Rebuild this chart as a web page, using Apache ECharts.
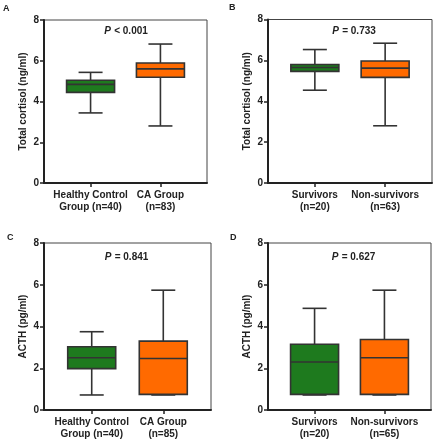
<!DOCTYPE html>
<html><head><meta charset="utf-8">
<script src="https://cdn.jsdelivr.net/npm/echarts@6/dist/echarts.min.js"></script>
<style>html,body{margin:0;padding:0;background:#fff}#c{width:437px;height:440px}</style>
</head><body><div id="c"></div>
<script>
// ---- data ----
const panelLetters = ['A', 'B', 'C', 'D'];
const pTexts = ['< 0.001', '= 0.733', '= 0.841', '= 0.627'];
const yNames = ['Total cortisol (ng/ml)', 'Total cortisol (ng/ml)', 'ACTH (pg/ml)', 'ACTH (pg/ml)'];
const catsA = ['Healthy Control\nGroup (n=40)', 'CA Group\n(n=83)'];
const catsB = ['Survivors\n(n=20)', 'Non-survivors\n(n=63)'];
const catsC = ['Healthy Control\nGroup (n=40)', 'CA Group\n(n=85)'];
const catsD = ['Survivors\n(n=20)', 'Non-survivors\n(n=65)'];
// [min, Q1, median, Q3, max]
const boxA = [[3.44, 4.45, 4.84, 5.04, 5.43], [2.80, 5.19, 5.60, 5.89, 6.82]];
const boxB = [[4.54, 5.46, 5.65, 5.80, 6.53], [2.80, 5.17, 5.62, 5.97, 6.84]];
const boxC = [[0.72, 1.98, 2.50, 3.03, 3.75], [0.72, 0.75, 2.47, 3.30, 5.74]];
const boxD = [[0.72, 0.75, 2.30, 3.15, 4.87], [0.72, 0.75, 2.50, 3.38, 5.74]];
const yTicks = [0, 2, 4, 6, 8];

// ---- layout ----
const grids = [
  {left: 44, top: 20, width: 163, height: 163},
  {left: 268, top: 19.5, width: 164, height: 163.5},
  {left: 44, top: 243, width: 167, height: 167.5},
  {left: 268, top: 243, width: 163, height: 167.5}
];
const letterPos = [[3, 4], [229, 3], [7, 233], [230, 233]];
const pPos = [[126, 31], [354, 31], [126.5, 257.5], [353.5, 257]];
const allCats = [catsA, catsB, catsC, catsD];
const allBoxes = [boxA, boxB, boxC, boxD];
const colors = ['#1e7a1e', '#ff6a00'];
const SLOTS = 8, POS = [2, 5];
const FONT = '"Liberation Sans", Arial, sans-serif';
const dark = '#222';

function slotCats(cats) {
  const a = new Array(SLOTS).fill('');
  a[POS[0]] = cats[0]; a[POS[1]] = cats[1];
  return a;
}
const showIdx = (i) => i === POS[0] || i === POS[1];

function renderBox(params, api) {
  const x = api.value(0);
  const ci = api.value(6);
  const pt = (v) => api.coord([x, v]);
  const lo = pt(api.value(1)), q1 = pt(api.value(2)), md = pt(api.value(3)),
        q3 = pt(api.value(4)), hi = pt(api.value(5));
  const cx = lo[0], hw = 24, cw = 12;
  const ls = {stroke: '#333', lineWidth: 1.6};
  return {
    type: 'group',
    children: [
      {type: 'line', shape: {x1: cx, y1: hi[1], x2: cx, y2: q3[1]}, style: ls},
      {type: 'line', shape: {x1: cx, y1: q1[1], x2: cx, y2: lo[1]}, style: ls},
      {type: 'line', shape: {x1: cx - cw, y1: hi[1], x2: cx + cw, y2: hi[1]}, style: ls},
      {type: 'line', shape: {x1: cx - cw, y1: lo[1], x2: cx + cw, y2: lo[1]}, style: ls},
      {type: 'rect', shape: {x: cx - hw, y: q3[1], width: hw * 2, height: q1[1] - q3[1]},
        style: {fill: colors[ci], stroke: '#333', lineWidth: 1.6}},
      {type: 'line', shape: {x1: cx - hw, y1: md[1], x2: cx + hw, y2: md[1]}, style: ls}
    ]
  };
}

const option = {
  animation: false,
  textStyle: {fontFamily: FONT},
  grid: grids.map(g => Object.assign({show: true, borderColor: '#444', borderWidth: 1, backgroundColor: 'transparent'}, g)),
  xAxis: allCats.map((cats, k) => ({
    type: 'category', gridIndex: k, data: slotCats(cats), boundaryGap: false,
    axisLine: {lineStyle: {color: dark, width: 2}},
    axisTick: {interval: (i) => showIdx(i), length: 4, lineStyle: {color: dark, width: 1.5}},
    axisLabel: {interval: (i) => showIdx(i), color: dark, fontWeight: 'bold', fontSize: 10,
      lineHeight: 12, margin: 6, fontFamily: FONT},
    splitLine: {show: false}
  })),
  yAxis: yNames.map((nm, k) => ({
    type: 'value', gridIndex: k, min: yTicks[0], max: yTicks[yTicks.length - 1], interval: yTicks[1] - yTicks[0],
    name: nm, nameLocation: 'middle', nameGap: 16,
    nameTextStyle: {color: dark, fontWeight: 'bold', fontSize: 10, fontFamily: FONT},
    axisLine: {show: true, lineStyle: {color: dark, width: 2}},
    axisTick: {show: true, length: 4, lineStyle: {color: dark, width: 1.5}},
    axisLabel: {color: dark, fontWeight: 'bold', fontSize: 10, margin: 5, fontFamily: FONT},
    splitLine: {show: false}
  })),
  graphic: [
    ...panelLetters.map((L, k) => ({
      type: 'text', x: letterPos[k][0], y: letterPos[k][1],
      style: {text: L, font: 'bold 9px ' + FONT, fill: dark, align: 'left', verticalAlign: 'top'}
    })),
    ...pTexts.map((t, k) => ({
      type: 'text', x: pPos[k][0], y: pPos[k][1],
      style: {
        text: '{i|P} {b|' + t + '}', align: 'center', verticalAlign: 'middle',
        rich: {
          i: {fontStyle: 'italic', fontWeight: 'bold', fontSize: 10, fill: dark, fontFamily: FONT},
          b: {fontWeight: 'bold', fontSize: 10, fill: dark, fontFamily: FONT}
        }
      }
    }))
  ],
  series: allBoxes.map((boxes, k) => ({
    type: 'custom', xAxisIndex: k, yAxisIndex: k,
    renderItem: renderBox,
    encode: {x: 0, y: [1, 2, 3, 4, 5]},
    data: boxes.map((b, i) => [POS[i]].concat(b, [i]))
  }))
};
echarts.init(document.getElementById('c'), null, {renderer: 'canvas'}).setOption(option);
</script></body></html>
